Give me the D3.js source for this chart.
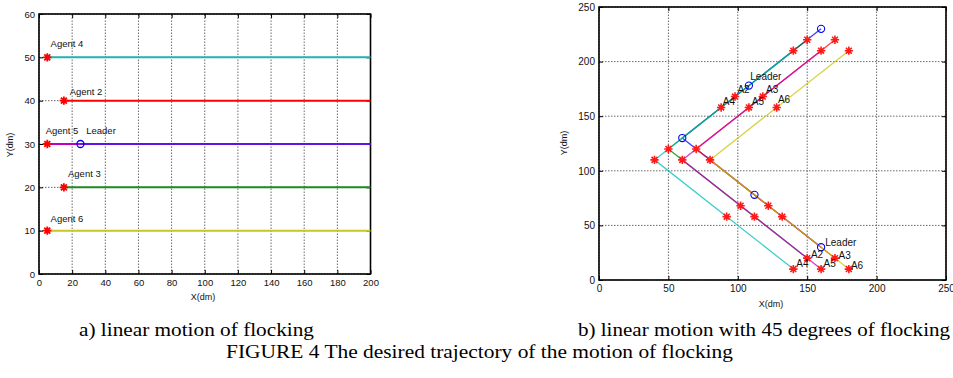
<!DOCTYPE html>
<html>
<head>
<meta charset="utf-8">
<script src="https://cdn.jsdelivr.net/npm/d3@7"></script>
<style>
  body { margin: 0; background: #fff; }
  svg text { font-family: "Liberation Sans", Arial, sans-serif; fill: #111; }
</style>
</head>
<body>
<div id="chart"></div>
<script>
// ---- panel a) linear motion ----
const aNames  = ['Agent 5', 'Leader', 'Agent 4', 'Agent 2', 'Agent 3', 'Agent 6'];
const aStartX = [5, 25, 5, 15, 15, 5];
const aEndX   = [200, 200, 200, 200, 200, 200];
const aY      = [30, 30, 50, 40, 20, 10];
const aLabelX = [4, 28.5, 7, 18.5, 17.5, 7];
const aLabelY = [32.2, 32.4, 52.5, 41.3, 22.3, 12.1];
const aXTicks = [0, 20, 40, 60, 80, 100, 120, 140, 160, 180, 200];
const aYTicks = [0, 10, 20, 30, 40, 50, 60];

// ---- panel b) 45 degree motion ----
const bNames  = ['Leader', 'A2', 'A3', 'A5', 'A4', 'A6'];
const bStartX = [160, 150, 170, 160, 140, 180];
const bStartY = [30, 20, 20, 10, 10, 10];
const bMidDX  = [112, 102, 122, 112, 92, 132];
const bMidDY  = [78, 68, 68, 58, 58, 58];
const bTurnX  = [60, 50, 70, 60, 40, 80];
const bTurnY  = [130, 120, 120, 110, 110, 110];
const bMidUX  = [108, 98, 118, 108, 88, 128];
const bMidUY  = [178, 168, 168, 158, 158, 158];
const bEndX   = [160, 150, 170, 160, 140, 180];
const bEndY   = [230, 220, 220, 210, 210, 210];
const bLabTopX = [109, 99.7, 120.4, 110.1, 89.2, 128.9];
const bLabTopY = [183.6, 170.8, 171.4, 160, 160, 162.5];
const bLabBotX = [163, 152.7, 172.6, 161.8, 142.1, 181.5];
const bLabBotY = [31, 20.6, 18.8, 12.1, 12.1, 10.5];
const bTicks = [0, 50, 100, 150, 200, 250];

const captions = ['a) linear motion of flocking', 'b) linear motion with 45 degrees of flocking',
                  'FIGURE 4 The desired trajectory of the motion of flocking'];

const aColors = {'Agent 5': '#c000c0', 'Leader': '#2020ff', 'Agent 4': '#22b4b4',
                 'Agent 2': '#ff0000', 'Agent 3': '#1f8a1f', 'Agent 6': '#c8c828'};
const bColors = {'Leader': '#0000ff', 'A2': '#008000', 'A3': '#ff0000',
                 'A5': '#c000c0', 'A4': '#00bcbc', 'A6': '#c8c400'};

const svg = d3.select('#chart').append('svg')
  .attr('width', 953).attr('height', 378);
svg.append('rect').attr('width', 953).attr('height', 378).attr('fill', '#fff');

// matlab style '*' marker: plus + cross
const starSym = {
  draw(ctx, size) {
    const r = Math.sqrt(size) / 2, d = r * 0.7071;
    ctx.moveTo(-r, 0); ctx.lineTo(r, 0);
    ctx.moveTo(0, -r); ctx.lineTo(0, r);
    ctx.moveTo(-d, -d); ctx.lineTo(d, d);
    ctx.moveTo(-d, d); ctx.lineTo(d, -d);
  }
};
const star = d3.symbol().type(starSym).size(70);

function frame(g, x, y, xt, yt, fs, xlab, ylab) {
  const [x0, x1] = x.range(), [y0, y1] = y.range();
  // dotted grid
  g.append('g').selectAll('line').data(xt).enter().append('line')
    .attr('x1', d => x(d)).attr('x2', d => x(d)).attr('y1', y0).attr('y2', y1)
    .attr('stroke', '#6a6a6a').attr('stroke-dasharray', '1.5,1.5');
  g.append('g').selectAll('line').data(yt).enter().append('line')
    .attr('y1', d => y(d)).attr('y2', d => y(d)).attr('x1', x0).attr('x2', x1)
    .attr('stroke', '#6a6a6a').attr('stroke-dasharray', '1.5,1.5');

  const bottom = g.append('g').attr('transform', `translate(0,${y0})`)
    .call(d3.axisBottom(x).tickValues(xt).tickSize(-4).tickPadding(5));
  const left = g.append('g').attr('transform', `translate(${x0},0)`)
    .call(d3.axisLeft(y).tickValues(yt).tickSize(-4).tickPadding(4));
  g.append('g').attr('transform', `translate(0,${y1})`)
    .call(d3.axisTop(x).tickValues(xt).tickSize(-4).tickFormat(''));
  g.append('g').attr('transform', `translate(${x1},0)`)
    .call(d3.axisRight(y).tickValues(yt).tickSize(-4).tickFormat(''));
  g.selectAll('.domain').remove();
  g.selectAll('.tick line').attr('stroke', '#000');
  [bottom, left].forEach(a => a.selectAll('text')
    .style('font-family', '"Liberation Sans", Arial, sans-serif')
    .style('font-size', fs + 'px').attr('fill', '#111'));

  g.append('rect').attr('x', x0).attr('y', y1)
    .attr('width', x1 - x0).attr('height', y0 - y1)
    .attr('fill', 'none').attr('stroke', '#000').attr('stroke-width', 1.6);

  g.append('text').attr('x', xlab[0]).attr('y', xlab[1])
    .attr('text-anchor', 'middle').style('font-size', '9px').text('X(dm)');
  g.append('text').attr('transform', `translate(${ylab[0]},${ylab[1]}) rotate(-90)`)
    .attr('text-anchor', 'middle').style('font-size', '9px').text('Y(dm)');
}

// ================= panel a =================
{
  const g = svg.append('g');
  const x = d3.scaleLinear().domain([0, 200]).range([39, 370.5]);
  const y = d3.scaleLinear().domain([0, 60]).range([274, 14]);
  frame(g, x, y, aXTicks, aYTicks, 9.5, [203, 300], [13, 145]);

  aNames.forEach((n, i) => {
    g.append('line')
      .attr('x1', x(aStartX[i])).attr('x2', x(aEndX[i]))
      .attr('y1', y(aY[i])).attr('y2', y(aY[i]))
      .attr('stroke', aColors[n]).attr('stroke-width', 2)
      .attr('stroke-opacity', n === 'Leader' ? 0.6 : 1);
  });
  aNames.forEach((n, i) => {
    if (n === 'Leader') {
      g.append('circle').attr('cx', x(aStartX[i])).attr('cy', y(aY[i])).attr('r', 3.5)
        .attr('fill', 'none').attr('stroke', '#0000ff').attr('stroke-width', 1.3);
    } else {
      g.append('path').attr('d', star)
        .attr('transform', `translate(${x(aStartX[i])},${y(aY[i])})`)
        .attr('stroke', '#ff0000').attr('stroke-width', 1.8);
    }
    g.append('text').attr('x', x(aLabelX[i])).attr('y', y(aLabelY[i]))
      .style('font-size', '9.5px').text(n);
  });
}

// ================= panel b =================
{
  const g = svg.append('g');
  const x = d3.scaleLinear().domain([0, 250]).range([599, 946]);
  const y = d3.scaleLinear().domain([0, 250]).range([280, 7]);
  frame(g, x, y, bTicks, bTicks, 10, [771, 307], [567, 143]);

  const line = d3.line().x(d => x(d[0])).y(d => y(d[1]));
  bNames.forEach((n, i) => {
    g.append('path')
      .attr('d', line([[bStartX[i], bStartY[i]], [bTurnX[i], bTurnY[i]], [bEndX[i], bEndY[i]]]))
      .attr('fill', 'none').attr('stroke', bColors[n]).attr('stroke-width', 1.3)
      .attr('stroke-opacity', 0.75);
  });

  const snaps = [[bStartX, bStartY], [bMidDX, bMidDY], [bTurnX, bTurnY], [bMidUX, bMidUY], [bEndX, bEndY]];
  snaps.forEach(([sx, sy]) => {
    bNames.forEach((n, i) => {
      if (n === 'Leader') {
        g.append('circle').attr('cx', x(sx[i])).attr('cy', y(sy[i])).attr('r', 3.6)
          .attr('fill', 'none').attr('stroke', '#0000ff').attr('stroke-width', 1.1);
      } else {
        g.append('path').attr('d', star)
          .attr('transform', `translate(${x(sx[i])},${y(sy[i])})`)
          .attr('stroke', '#ff1a1a').attr('stroke-width', 1.6);
      }
    });
  });

  bNames.forEach((n, i) => {
    g.append('text').attr('x', x(bLabTopX[i])).attr('y', y(bLabTopY[i]))
      .style('font-size', '10px').text(n);
    g.append('text').attr('x', x(bLabBotX[i])).attr('y', y(bLabBotY[i]))
      .style('font-size', '10px').text(n);
  });
}

// ================= captions =================
const capPos = [[196.5, 336, 235], [764, 336, 372], [479.5, 358, 507]];
captions.forEach((c, i) => {
  svg.append('text')
    .attr('x', capPos[i][0] - capPos[i][2] / 2).attr('y', capPos[i][1])
    .attr('textLength', capPos[i][2]).attr('lengthAdjust', 'spacingAndGlyphs')
    .style('font-family', '"Liberation Serif", "Times New Roman", serif')
    .style('font-size', '19px').style('fill', '#000').text(c);
});
</script>
</body>
</html>
